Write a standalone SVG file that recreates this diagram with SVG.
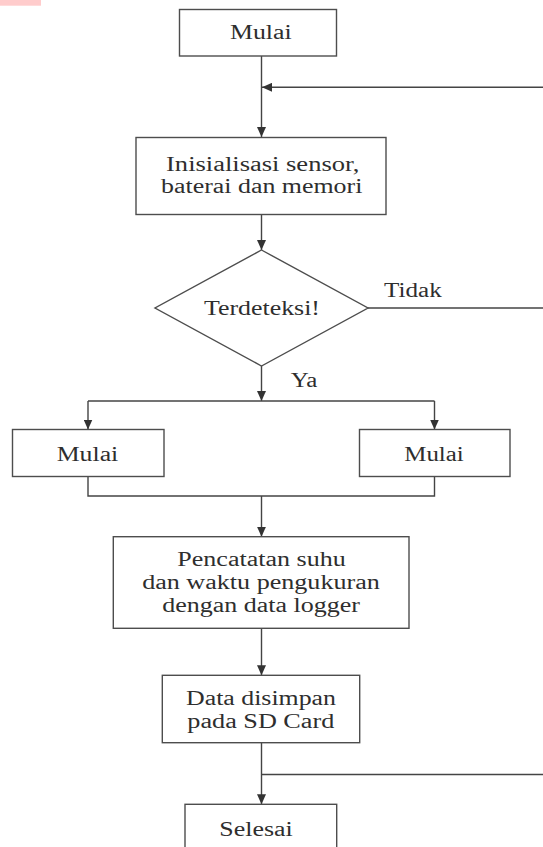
<svg xmlns="http://www.w3.org/2000/svg" width="543" height="847" viewBox="0 0 543 847">
<style>
.box{fill:#fff;stroke:#4d4d4d;stroke-width:1.4}
.ln{fill:none;stroke:#444;stroke-width:1.4}
.t{font-family:"Liberation Serif","Times New Roman",serif;font-size:20.5px;fill:#2e2e2e;text-anchor:middle}
.ts{font-family:"Liberation Serif","Times New Roman",serif;font-size:20.5px;fill:#2e2e2e;text-anchor:start}
</style>
<defs>
<marker id="arr" markerUnits="userSpaceOnUse" markerWidth="10" markerHeight="9" refX="10" refY="4.5" orient="auto">
<path d="M0,0 L10,4.5 L0,9 Z" fill="#333"/>
</marker>
</defs>
<rect x="0" y="0" width="41" height="5.7" fill="#ffcccc"/>
<g id="connectors">
<line class="ln" x1="261.5" y1="56" x2="261.5" y2="137" marker-end="url(#arr)"/>
<line class="ln" x1="543" y1="87.3" x2="262" y2="87.3" marker-end="url(#arr)"/>
<line class="ln" x1="261.5" y1="214.5" x2="261.5" y2="250" marker-end="url(#arr)"/>
<line class="ln" x1="368" y1="308" x2="543" y2="308"/>
<line class="ln" x1="261.5" y1="366" x2="261.5" y2="401" marker-end="url(#arr)"/>
<line class="ln" x1="88" y1="401" x2="434.5" y2="401"/>
<line class="ln" x1="88" y1="401" x2="88" y2="429.5" marker-end="url(#arr)"/>
<line class="ln" x1="434.5" y1="401" x2="434.5" y2="429.5" marker-end="url(#arr)"/>
<polyline class="ln" points="88,476.5 88,496 434.5,496 434.5,476.5"/>
<line class="ln" x1="261.5" y1="496" x2="261.5" y2="536.7" marker-end="url(#arr)"/>
<line class="ln" x1="261.5" y1="628.3" x2="261.5" y2="675.3" marker-end="url(#arr)"/>
<line class="ln" x1="261.5" y1="742.7" x2="261.5" y2="804.3" marker-end="url(#arr)"/>
<line class="ln" x1="261.5" y1="774.5" x2="543" y2="774.5"/>
</g>
<g id="start">
<rect class="box" x="179.5" y="9.5" width="157" height="46.5"/>
<text class="t" x="260.8" y="39.3" textLength="61.7" lengthAdjust="spacingAndGlyphs">Mulai</text>
</g>
<g id="init">
<rect class="box" x="136" y="137.5" width="250" height="77"/>
<text class="t" x="262.7" y="170.7" textLength="193.3" lengthAdjust="spacingAndGlyphs">Inisialisasi sensor,</text>
<text class="t" x="261.7" y="193" textLength="201.3" lengthAdjust="spacingAndGlyphs">baterai dan memori</text>
</g>
<g id="decision">
<polygon class="box" points="261.5,250 368,308 261.5,366 155,308"/>
<text class="t" x="262" y="315" textLength="116" lengthAdjust="spacingAndGlyphs">Terdeteksi!</text>
<text class="ts" x="384" y="297" textLength="57.7" lengthAdjust="spacingAndGlyphs">Tidak</text>
<text class="ts" x="290.7" y="386.7" textLength="26.6" lengthAdjust="spacingAndGlyphs">Ya</text>
</g>
<g id="left">
<rect class="box" x="12.5" y="429.5" width="151.5" height="47"/>
<text class="t" x="87.5" y="460.7" textLength="61.6" lengthAdjust="spacingAndGlyphs">Mulai</text>
</g>
<g id="right">
<rect class="box" x="359.5" y="429.5" width="150.5" height="47"/>
<text class="t" x="434" y="460.7" textLength="59.5" lengthAdjust="spacingAndGlyphs">Mulai</text>
</g>
<g id="record">
<rect class="box" x="113.3" y="536.7" width="295.7" height="91.6"/>
<text class="t" x="261.5" y="566" textLength="168.4" lengthAdjust="spacingAndGlyphs">Pencatatan suhu</text>
<text class="t" x="261" y="589" textLength="237.7" lengthAdjust="spacingAndGlyphs">dan waktu pengukuran</text>
<text class="t" x="261" y="612.3" textLength="197.7" lengthAdjust="spacingAndGlyphs">dengan data logger</text>
</g>
<g id="save">
<rect class="box" x="162.3" y="675.3" width="197.4" height="67.4"/>
<text class="t" x="261" y="705" textLength="150" lengthAdjust="spacingAndGlyphs">Data disimpan</text>
<text class="t" x="260.8" y="728.3" textLength="147" lengthAdjust="spacingAndGlyphs">pada SD Card</text>
</g>
<g id="end">
<rect class="box" x="185" y="804.3" width="151.7" height="60"/>
<text class="t" x="256" y="835.7" textLength="73.4" lengthAdjust="spacingAndGlyphs">Selesai</text>
</g>
</svg>
